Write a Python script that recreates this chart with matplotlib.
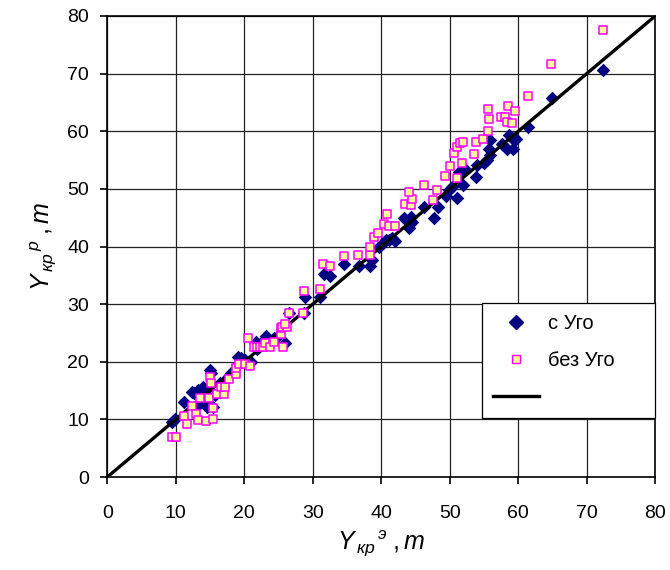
import matplotlib.pyplot as plt
from matplotlib.lines import Line2D

plt.rcParams['font.family'] = ['Liberation Sans', 'DejaVu Sans']
plt.rcParams['mathtext.fontset'] = 'custom'
plt.rcParams['mathtext.it'] = 'Liberation Sans:italic'
plt.rcParams['mathtext.rm'] = 'Liberation Sans'

# с Уго (diamonds)
c_ugo_x = [9.4, 9.9, 11.2, 12.4, 12.6, 13.2, 14.0, 14.5, 15.0, 15.2, 13.0, 14.3, 14.5, 15.5, 15.7,
           16.4, 17.2, 17.9, 18.1, 19.1, 19.5, 20.1, 21.0, 21.7, 21.8, 23.0, 23.2, 24.4, 24.7, 25.9,
           26.6, 28.7, 28.8, 31.1, 31.6, 32.5, 34.6, 36.7, 38.4, 38.6, 39.7, 40.2, 40.7, 41.2, 41.6,
           42.0, 43.3, 44.1, 44.3, 44.5, 44.1, 46.3, 47.7, 48.3, 49.4, 49.9, 50.3, 51.1, 51.9, 51.3,
           52.1, 53.8, 54.0, 55.0, 55.5, 55.9, 55.7, 55.9, 57.6, 58.4, 58.6, 59.1, 59.7, 59.3, 61.4,
           65.0, 72.3]
c_ugo_y = [9.6, 10.0, 13.1, 14.8, 14.6, 15.1, 15.6, 15.2, 18.6, 18.0, 12.1, 12.8, 12.1, 12.2, 14.2,
           16.3, 16.8, 17.7, 18.1, 20.9, 20.6, 20.3, 20.0, 23.5, 22.3, 23.9, 24.4, 24.1, 24.1, 23.2,
           28.4, 28.4, 31.2, 31.2, 35.2, 34.9, 37.0, 36.7, 36.7, 37.6, 40.0, 40.6, 41.1, 41.1, 41.4,
           41.0, 44.9, 44.6, 45.2, 44.3, 43.2, 46.9, 44.9, 46.8, 48.7, 49.8, 50.4, 48.4, 50.7, 53.0,
           53.6, 52.1, 54.2, 54.5, 55.0, 55.9, 56.9, 58.5, 57.8, 57.0, 59.4, 58.8, 58.6, 56.9, 60.8,
           65.7, 70.7]

# без Уго (squares)
bez_ugo_x = [9.5, 10.0, 11.2, 11.7, 12.4, 13.0, 13.2, 14.4, 15.4, 15.4, 13.6, 14.8, 16.1, 17.1, 16.6,
             17.2, 17.8, 15.0, 15.2, 18.8, 18.8, 19.2, 20.1, 20.9, 20.6, 21.5, 21.8, 22.3, 22.8, 23.1,
             23.7, 24.4, 25.7, 25.4, 25.4, 25.5, 26.2, 26.0, 26.5, 28.6, 28.7, 31.1, 31.5, 32.5, 34.5,
             36.6, 38.3, 38.4, 39.0, 39.6, 40.4, 41.2, 42.0, 40.9, 43.4, 44.3, 44.5, 44.1, 46.2, 47.6,
             48.2, 49.3, 50.0, 51.0, 51.8, 50.6, 51.0, 51.5, 52.0, 53.5, 53.9, 54.8, 55.6, 55.7, 55.6,
             57.5, 58.0, 58.4, 59.1, 58.5, 59.5, 61.4, 64.8, 72.3]
bez_ugo_y = [6.9, 7.0, 10.6, 9.2, 12.3, 10.9, 9.9, 9.8, 10.0, 11.9, 13.7, 13.7, 14.5, 14.4, 15.6,
             15.6, 17.0, 17.4, 16.4, 17.9, 19.0, 19.7, 19.6, 19.3, 24.1, 22.5, 22.6, 22.5, 22.5, 23.3,
             22.5, 23.5, 22.5, 24.9, 25.8, 26.0, 26.0, 26.6, 28.5, 28.4, 32.3, 32.6, 36.9, 36.7, 38.4,
             38.6, 38.6, 40.0, 41.6, 42.3, 43.9, 43.5, 43.6, 45.7, 47.4, 47.2, 48.3, 49.4, 50.6, 48.1,
             49.8, 52.3, 53.9, 51.9, 54.5, 56.3, 57.2, 57.9, 58.2, 56.1, 58.2, 58.6, 60.1, 62.2, 63.9,
             62.4, 62.4, 61.6, 61.4, 64.4, 63.5, 66.2, 71.7, 77.6]

# line y = x
line_x = [0, 80]
line_y = [0, 80]

fig = plt.figure(figsize=(6.7, 5.7), dpi=100)
ax = fig.add_axes([0.16, 0.163, 0.818, 0.809])

ax.scatter(c_ugo_x, c_ugo_y, marker='D', s=48, color='#000080', linewidths=0, zorder=2)
ax.plot(line_x, line_y, color='black', lw=2.4, zorder=3)
ax.scatter(bez_ugo_x, bez_ugo_y, marker='s', s=26, facecolor='#FFFF99', edgecolor='#FF00FF',
           linewidths=1.1, zorder=4)

ax.set_xlim(0, 80)
ax.set_ylim(0, 80)
ax.set_xticks(range(0, 81, 10))
ax.set_yticks(range(0, 81, 10))
ax.grid(True, color='#222222', lw=0.9)
ax.set_axisbelow(True)
for s in ax.spines.values():
    s.set_color('black')
    s.set_linewidth(1.2)
ax.tick_params(direction='out', length=5, width=1.2, labelsize=14)
ax.tick_params(axis='x', pad=15)
ax.tick_params(axis='y', pad=8)

ax.set_xlabel(r'$Y_{\,кр}{}^{\,э}\;,m$', fontsize=18, labelpad=5)
ax.set_ylabel(r'$Y_{\,кр}{}^{\,р}\;,m$', fontsize=18, labelpad=6)

handles = [
    Line2D([], [], marker='D', ls='none', color='#000080', markersize=7),
    Line2D([], [], marker='s', ls='none', markerfacecolor='#FFFF99', markeredgecolor='#FF00FF',
           markersize=5.5),
    Line2D([], [], color='black', lw=2.4),
]
leg = ax.legend(handles, ['с Уго', 'без Уго', ''], loc='lower left',
                bbox_to_anchor=(0.684, 0.128, 0.316, 0.25), mode='expand',
                fontsize=14.5, frameon=True, fancybox=False,
                borderpad=0.55, labelspacing=0.9, handlelength=2.3, handletextpad=0.4,
                borderaxespad=0)
leg.get_frame().set_edgecolor('black')
leg.get_frame().set_linewidth(0.9)
leg.get_frame().set_alpha(1)

fig.savefig('out.png', dpi=100)
